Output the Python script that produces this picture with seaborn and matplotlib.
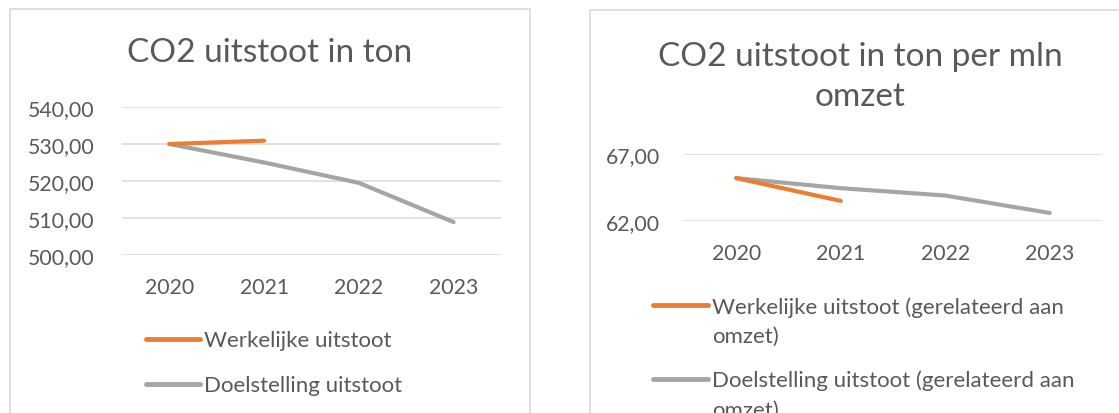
import numpy as np
import pandas as pd
import seaborn as sns
import matplotlib
matplotlib.use("Agg")
import matplotlib.pyplot as plt
from matplotlib.ticker import FuncFormatter
from matplotlib.patches import Rectangle
from matplotlib.lines import Line2D

# data
years = ["2020", "2021", "2022", "2023"]
actual_ton = [530.0, 530.9, np.nan, np.nan]
target_ton = [530.0, 525.0, 519.5, 508.9]
actual_per_mln = [65.2, 63.5, np.nan, np.nan]
target_per_mln = [65.2, 64.45, 63.9, 62.6]

ORANGE = "#ED7D31"
GREY = "#A5A5A5"
TXT = "#595959"
GRID = "#D9D9D9"

sns.set_theme(style="white")
plt.rcParams["font.family"] = ["Lato", "DejaVu Sans"]

W, H = 1119, 414
fig = plt.figure(figsize=(W / 100, H / 100), dpi=100)


def px_axes(x0, x1, ytop, ybot):
    return fig.add_axes([x0 / W, 1 - ybot / H, (x1 - x0) / W, (ybot - ytop) / H])


def comma(v, pos):
    return f"{v:.2f}".replace(".", ",")


def draw(ax, actual, target, ylim, step, ypad, xpad):
    df = pd.DataFrame({"year": years, "actual": actual, "target": target})
    x = np.arange(len(years))
    sns.lineplot(x=x, y=df["target"], ax=ax, color=GREY, lw=3, legend=False,
                 solid_capstyle="round")
    mask = df["actual"].notna()
    sns.lineplot(x=x[mask], y=df["actual"][mask], ax=ax, color=ORANGE, lw=3,
                 legend=False, solid_capstyle="round")
    ax.set_xlim(-0.5, len(years) - 0.5)
    ax.set_ylim(*ylim)
    ax.set_yticks(np.arange(ylim[0], ylim[1] + 0.01, step))
    ax.yaxis.set_major_formatter(FuncFormatter(comma))
    ax.set_xticks(x)
    ax.set_xticklabels(years)
    ax.set_xlabel("")
    ax.set_ylabel("")
    for s in ax.spines.values():
        s.set_visible(False)
    ax.grid(axis="y", color=GRID, lw=1.1)
    ax.grid(axis="x", visible=False)
    ax.set_axisbelow(True)
    ax.tick_params(axis="y", length=0, pad=ypad, labelsize=15.3, labelcolor=TXT)
    ax.tick_params(axis="x", length=0, pad=xpad, labelsize=15.3, labelcolor=TXT)
    ax.set_facecolor("none")


# chart borders
fig.patches.append(Rectangle((10 / W, -0.1), 520 / W, (H - 10) / H + 0.1,
                             transform=fig.transFigure, fill=False,
                             ec=GRID, lw=1.2))
fig.patches.append(Rectangle((590 / W, -0.1), 600 / W, (H - 11) / H + 0.1,
                             transform=fig.transFigure, fill=False,
                             ec=GRID, lw=1.2))

ax1 = px_axes(122, 501, 108, 256)
draw(ax1, actual_ton, target_ton, (500, 540), 10, 20, 16)
ax2 = px_axes(684, 1102, 155, 222)
draw(ax2, actual_per_mln, target_per_mln, (62, 67), 5, 17, 16)

fig.text(270 / W, 1 - 53 / H, "CO2 uitstoot in ton", ha="center", va="center",
         fontsize=24, color=TXT)
fig.text(860 / W, 1 - 77 / H, "CO2 uitstoot in ton per mln\nomzet",
         ha="center", va="center", fontsize=24, color=TXT, linespacing=1.45)


# legends (Excel style, line key level with the first text line)
def legend_entry(x0, x1, y, color, label):
    fig.add_artist(Line2D([x0 / W, x1 / W], [1 - y / H, 1 - y / H],
                          transform=fig.transFigure, color=color, lw=3.5,
                          solid_capstyle="round"))
    for i, part in enumerate(label.split("\n")):
        fig.text((x1 + 4) / W, 1 - (y + 7.5 + 29 * i) / H, part, ha="left",
                 va="baseline", fontsize=16, color=TXT)


legend_entry(146, 200, 340, ORANGE, "Werkelijke uitstoot")
legend_entry(146, 200, 385, GREY, "Doelstelling uitstoot")
legend_entry(653, 708, 306, ORANGE, "Werkelijke uitstoot (gerelateerd aan\nomzet)")
legend_entry(653, 708, 380, GREY, "Doelstelling uitstoot (gerelateerd aan\nomzet)")

fig.savefig("out.png", dpi=100, facecolor="white")
